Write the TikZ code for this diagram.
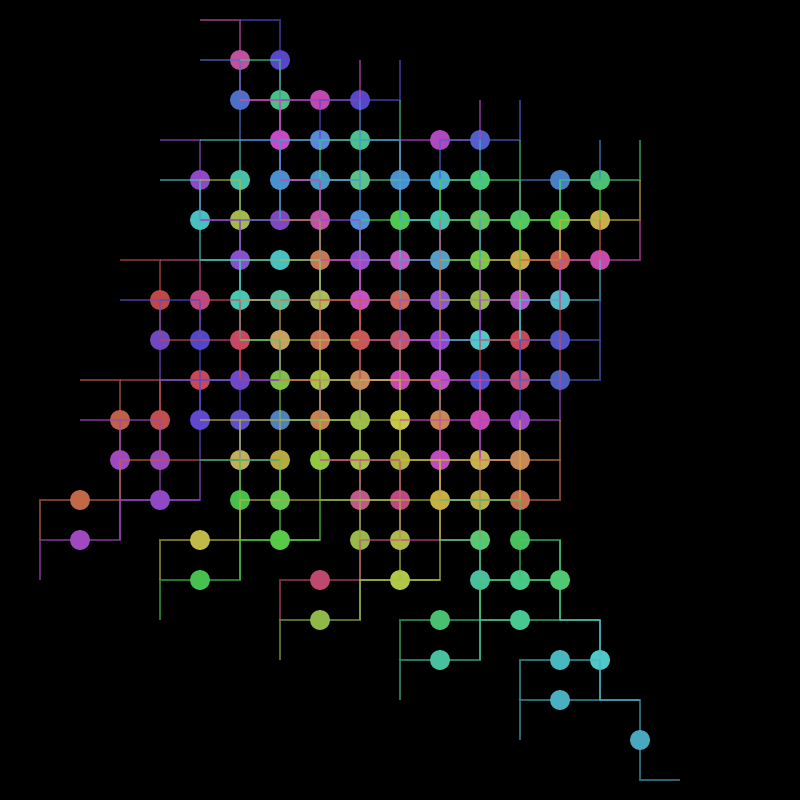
\documentclass[tikz,border=0pt]{standalone}
\usepackage{xcolor}
\usepackage{tikz}

\newcommand{\dotlist}{%
6/1/C050A0/V, 7/1/5848C8/V,
6/2/4C70C8/V, 7/2/48C088/V, 8/2/C048B0/H, 9/2/5848C8/H,
7/3/C848C8/V, 8/3/5888D8/H, 9/3/48C090/H, 11/3/B048C0/H, 12/3/5060C8/H,
5/4/9048C8/V, 6/4/48C0A8/V, 7/4/4890D0/V, 8/4/4898C8/H, 9/4/58C088/H, 10/4/4890D0/V, 11/4/48A8D0/H, 12/4/48C870/H, 14/4/4880C8/H, 15/4/48C078/H,
5/5/48C0C0/V, 6/5/A8B848/V, 7/5/8048C0/H, 8/5/C050A8/V, 9/5/5090D8/V, 10/5/50C850/H, 11/5/48C0B0/H, 12/5/68C060/H, 13/5/50C868/H, 14/5/58C848/H, 15/5/C8B048/H,
6/6/8850D0/V, 7/6/48C0C0/H, 8/6/C87850/V, 9/6/9050D0/V, 10/6/C058C0/H, 11/6/50A0C8/H, 12/6/78C848/H, 13/6/C8A848/H, 14/6/C86050/H, 15/6/C848B0/H,
4/7/C04848/V, 5/7/C04880/V, 6/7/48C8B0/V, 7/7/58C0A0/H, 8/7/B0B858/V, 9/7/C850C0/V, 10/7/C86858/H, 11/7/9058D0/H, 12/7/98B848/H, 13/7/B058C8/H, 14/7/58B8C8/H,
4/8/7048C0/V, 5/8/5048C8/V, 6/8/C84860/V, 7/8/C8A060/V, 8/8/C87058/V, 9/8/C85850/V, 10/8/C05868/H, 11/8/9048D0/H, 12/8/50C8C8/H, 13/8/C84858/H, 14/8/5058C8/H,
5/9/C84858/H, 6/9/7048C8/H, 7/9/80C048/V, 8/9/A8C048/V, 9/9/C88858/H, 10/9/C848B0/H, 11/9/C050C8/V, 12/9/5050D0/H, 13/9/C05080/H, 14/9/4C60C0/H,
3/10/C06048/V, 4/10/C05050/V, 5/10/6048D0/V, 6/10/6050C8/V, 7/10/5080C0/H, 8/10/C88050/V, 9/10/98C048/V, 10/10/C8C848/V, 11/10/C88850/V, 12/10/C848B0/V, 13/10/A048C8/H,
3/11/A048C0/V, 4/11/9848B8/V, 6/11/C0B058/V, 7/11/B8A840/V, 8/11/90C840/V, 9/11/A8C048/V, 10/11/B0B040/V, 11/11/C048C0/V, 12/11/C8B050/H, 13/11/C88858/H,
2/12/C06848/H, 4/12/9048C8/H, 6/12/48C048/V, 7/12/60C850/V, 9/12/C05888/V, 10/12/C04880/V, 11/12/C8B040/V, 12/12/C0B048/H, 13/12/C87050/H,
2/13/A048C0/H, 5/13/C0B848/H, 7/13/58C848/H, 9/13/98B848/V, 10/13/B0B848/V, 12/13/58C870/V, 13/13/48C060/V,
5/14/48C050/H, 8/14/C04870/H, 10/14/B0C848/H, 12/14/48C0A0/V, 13/14/48C888/H, 14/14/50C870/V,
8/15/90B848/H, 11/15/48C070/H, 13/15/48C890/H,
11/16/48C0A0/H, 14/16/48B8C0/H, 15/16/50C8C8/V,
14/17/48B0C0/H,
16/18/48A8C0/V}

\begin{document}
\begin{tikzpicture}[x=1cm,y=-1cm,
    dot/.style={circle,inner sep=0pt,minimum size=0.5cm,fill=dotcol},
    zig/.style={line width=1.4pt,draw=dotcol,draw opacity=0.6}]
    \fill[black] (0,0) rectangle (20,20);
    % dots
    \foreach \x/\j/\c/\o in \dotlist {
        \definecolor{dotcol}{HTML}{\c}
        \node[dot] (d\x-\j) at (\x,\j+0.5) {};
    }
    % one zigzag per dot, H = flat bar, V = upright bar
    \foreach \x/\j/\c/\o in \dotlist {
        \definecolor{dotcol}{HTML}{\c}
        \if\o H
            \draw[zig] ([shift={(-1,1)}]d\x-\j.center) -- ([shift={(-1,0)}]d\x-\j.center)
                -- ([shift={(1,0)}]d\x-\j.center) -- ([shift={(1,-1)}]d\x-\j.center);
        \else
            \draw[zig] ([shift={(-1,-1)}]d\x-\j.center) -- ([shift={(0,-1)}]d\x-\j.center)
                -- ([shift={(0,1)}]d\x-\j.center) -- ([shift={(1,1)}]d\x-\j.center);
        \fi
    }
\end{tikzpicture}
\end{document}
